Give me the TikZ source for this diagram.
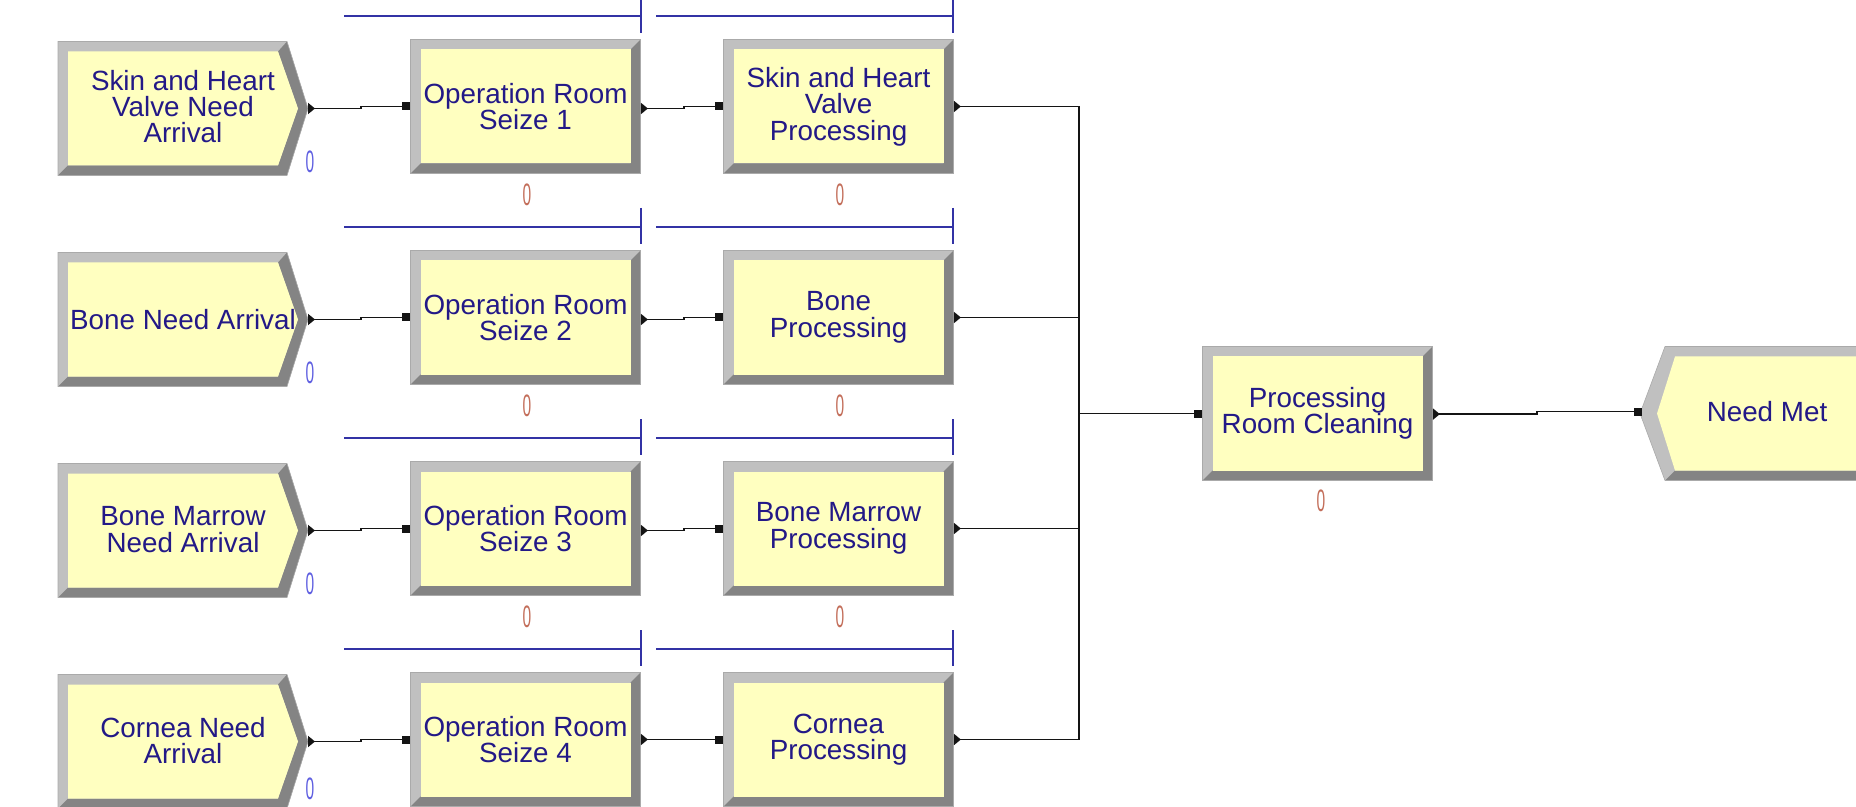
\documentclass[tikz,border=0pt]{standalone}
\usepackage{fontspec}
\setmainfont{Liberation Sans}
\usepackage{graphicx}
\usetikzlibrary{arrows.meta}
\definecolor{bevlight}{RGB}{192,192,192}
\definecolor{bevdark}{RGB}{132,132,132}
\definecolor{bevedge}{RGB}{170,170,170}
\definecolor{modfill}{RGB}{255,255,192}
\definecolor{txtblue}{RGB}{35,25,135}
\definecolor{qblue}{RGB}{50,50,165}
\definecolor{cntblue}{RGB}{95,95,225}
\definecolor{cntred}{RGB}{195,110,90}
\definecolor{connc}{RGB}{20,20,20}
\newcommand\zeroctr{\scalebox{0.5}[1]{0}}
% process (rectangular) module bevel, centre #1,#2
\newcommand\bevproc[2]{%
\begin{scope}[shift={(#1,#2)}]
 \fill[bevlight] (-115,-67) rectangle (115,67);
 \fill[bevdark] (-115,67) -- (115,67) -- (115,-67) -- (105,-57) -- (105,57) -- (-105,57) -- cycle;
 \fill[modfill] (-105,-57) rectangle (105,57);
 \draw[bevedge,line width=0.3pt] (-115,-67) rectangle (115,67);
\end{scope}}
% create (arrival) module bevel, centre #1,#2
\newcommand\bevarr[2]{%
\begin{scope}[shift={(#1,#2)}]
 \fill[bevlight] (-125,-67) -- (104,-67) -- (125,0) -- (104,67) -- (-125,67) -- cycle;
 \fill[bevdark] (-125,67) -- (104,67) -- (125,0) -- (104,-67) -- (95,-57) -- (115,0) -- (95,57) -- (-115,57) -- cycle;
 \fill[modfill] (-115,-57) -- (95,-57) -- (115,0) -- (95,57) -- (-115,57) -- cycle;
 \draw[bevedge,line width=0.3pt] (-125,-67) -- (104,-67) -- (125,0) -- (104,67) -- (-125,67) -- cycle;
\end{scope}}
% dispose module bevel, centre #1,#2
\newcommand\bevdisp[2]{%
\begin{scope}[shift={(#1,#2)}]
 \fill[bevlight] (-125,0) -- (-100,-67) -- (125,-67) -- (125,67) -- (-100,67) -- cycle;
 \fill[bevdark] (-100,67) -- (125,67) -- (125,-67) -- (115,-57) -- (115,57) -- (-90,57) -- cycle;
 \fill[modfill] (-108,0) -- (-90,-57) -- (115,-57) -- (115,57) -- (-90,57) -- cycle;
 \draw[bevedge,line width=0.3pt] (-125,0) -- (-100,-67) -- (125,-67) -- (125,67) -- (-100,67) -- cycle;
\end{scope}}
\begin{document}
\begin{tikzpicture}[x=0.5pt,y=-0.5pt,
  modtext/.style={inner sep=0pt, align=center, text=txtblue,
    font=\fontsize{13.9pt}{13.2pt}\selectfont},
  procnode/.style={modtext, minimum width=115pt, minimum height=67pt},
  arrnode/.style={modtext, minimum width=125pt, minimum height=67pt},
  cntA/.style={inner sep=0pt, text=cntblue, font=\fontsize{15.5pt}{15.5pt}\selectfont},
  cntB/.style={inner sep=0pt, text=cntred, font=\fontsize{15.5pt}{15.5pt}\selectfont},
  conn/.style={draw=connc, line width=0.85pt,
    arrows={Triangle[reversed,length=3.5pt,width=5.5pt]-Square[length=4pt,width=4pt]}},
  queue/.style={draw=qblue, line width=1pt}]
\fill[white] (0,0) rectangle (1856,807);
\useasboundingbox (0,0) rectangle (1856,807);
\begin{scope}
\clip (0,0) rectangle (1856,807);

% queue lines
\foreach \yq in {16,227,438,649}{
  \draw[queue] (344,\yq) -- (641,\yq);
  \draw[queue] (641,\yq-19) -- (641,\yq+17);
  \draw[queue] (656,\yq) -- (953,\yq);
  \draw[queue] (953,\yq-19) -- (953,\yq+17);
}

% module bevels
\bevarr{183}{108.5}\bevarr{183}{319.5}\bevarr{183}{530.5}\bevarr{183}{741.5}
\bevproc{525.5}{106.5}\bevproc{525.5}{317.5}\bevproc{525.5}{528.5}\bevproc{525.5}{739.5}
\bevproc{838.5}{106.5}\bevproc{838.5}{317.5}\bevproc{838.5}{528.5}\bevproc{838.5}{739.5}
\bevproc{1317.5}{413.5}
\bevdisp{1765}{413.5}

% module nodes
\node[arrnode] (a1) at (183,106.5) {Skin and Heart\\Valve Need\\Arrival};
\node[arrnode] (a2) at (183,319.5) {Bone Need Arrival};
\node[arrnode] (a3) at (183,529.5) {Bone Marrow\\Need Arrival};
\node[arrnode] (a4) at (183,740.5) {Cornea Need\\Arrival};
\node[procnode] (s1) at (525.5,106.5) {Operation Room\\Seize 1};
\node[procnode] (s2) at (525.5,317.5) {Operation Room\\Seize 2};
\node[procnode] (s3) at (525.5,528.5) {Operation Room\\Seize 3};
\node[procnode] (s4) at (525.5,739.5) {Operation Room\\Seize 4};
\node[procnode] (p1) at (838.5,106.5) {Skin and Heart\\Valve\\Processing};
\node[procnode] (p2) at (838.5,317.5) {Bone\\Processing};
\node[procnode] (p3) at (838.5,528.5) {Bone Marrow\\Processing};
\node[procnode] (p4) at (838.5,739.5) {Cornea\\Processing};
\node[procnode] (cl) at (1317.5,413.5) {Processing\\Room Cleaning};
\node[arrnode] (nm) at (1767,411.5) {Need Met};

% counters
\node[cntA] (ca1) at (310,162) {\zeroctr};
\node[cntA] (ca2) at (310,373) {\zeroctr};
\node[cntA] (ca3) at (310,584) {\zeroctr};
\node[cntA] (ca4) at (310,789) {\zeroctr};
\node[cntB] (cs1) at (527,195) {\zeroctr};
\node[cntB] (cs2) at (527,406) {\zeroctr};
\node[cntB] (cs3) at (527,617) {\zeroctr};
\node[cntB] (cp1) at (840,195) {\zeroctr};
\node[cntB] (cp2) at (840,406) {\zeroctr};
\node[cntB] (cp3) at (840,617) {\zeroctr};
\node[cntB] (cc) at (1321,501) {\zeroctr};

% connectors
\coordinate (a1x) at (308,108.5);
\coordinate (a2x) at (308,319.5);
\coordinate (a3x) at (308,530.5);
\coordinate (a4x) at (308,741.5);
\draw[conn] (a1x) -- ++(53,0) |- (s1.west);
\draw[conn] (a2x) -- ++(53,0) |- (s2.west);
\draw[conn] (a3x) -- ++(53,0) |- (s3.west);
\draw[conn] (a4x) -- ++(53,0) |- (s4.west);
\draw[conn] ([yshift=-1pt]s1.east) -- ++(43,0) |- (p1.west);
\draw[conn] ([yshift=-1pt]s2.east) -- ++(43,0) |- (p2.west);
\draw[conn] ([yshift=-1pt]s3.east) -- ++(43,0) |- (p3.west);
\draw[conn] (s4.east) -- (p4.west);
\coordinate (mrg) at (1079,413.5);
\draw[conn] (p1.east) -| (mrg) -- (cl.west);
\draw[conn] (p2.east) -| (mrg) -- (cl.west);
\draw[conn] (p3.east) -| (mrg) -- (cl.west);
\draw[conn] (p4.east) -| (mrg) -- (cl.west);
\draw[conn] ([yshift=-0.3pt]cl.east) -- ++(104,0) |- (nm.west);
\end{scope}
\end{tikzpicture}
\end{document}
